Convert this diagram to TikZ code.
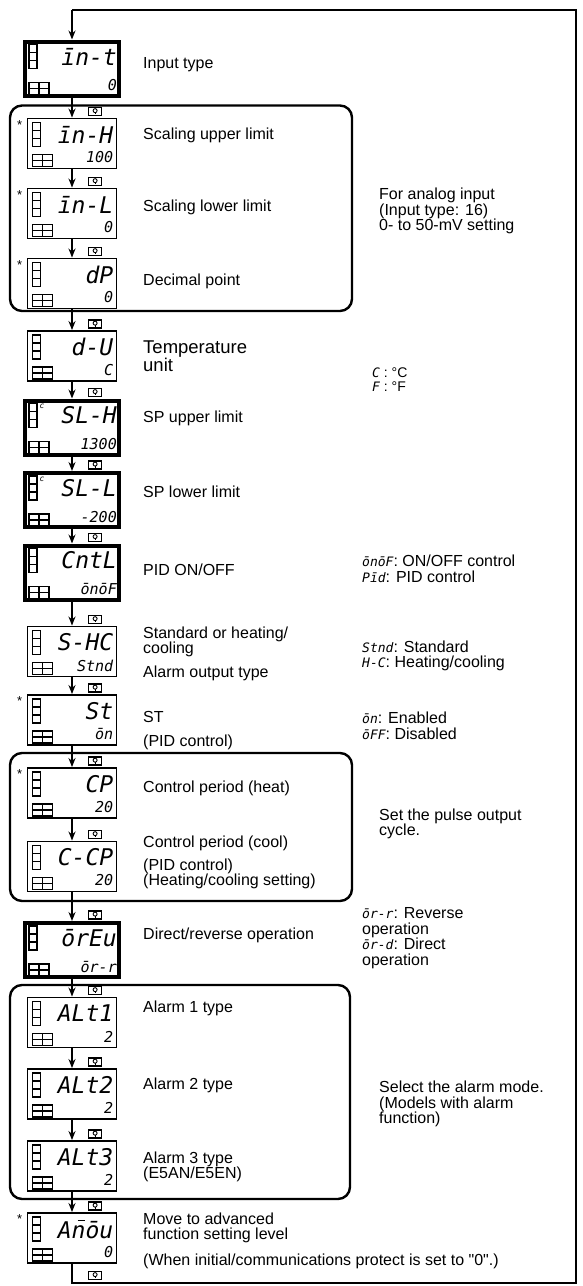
\documentclass[tikz,border=0pt]{standalone}
\usepackage{fontspec}
\setmainfont{Liberation Sans}[Ligatures=TeXOff]
\newfontfamily\segfont{DejaVu Sans Mono}
\usetikzlibrary{positioning,arrows.meta}

% traço sobre um caractere do visor
\newcommand{\sbar}[1]{\rlap{\kern0.26em\raisebox{0.74em}{\rule{0.32em}{0.07em}}}#1}
% caracteres do visor dentro do texto
\newcommand{\seg}[1]{{\segfont\itshape\fontsize{13}{13}\selectfont #1}}

% visor: [estilo] {nome} {y} {parametro} {valor}
\newcommand{\visor}[5][]{%
  \node[visor,#1] (#2) at (72,#3) {};
  \begin{scope}[shift={(#2.north west)}]
    \foreach \p in {0,1,2}
      \draw[indic] (6,5+8*\p) rectangle ++(8,8);
  \end{scope}
  \begin{scope}[shift={(#2.south west)}]
    \foreach \p in {0,1}
      \foreach \q in {0,1}
        \draw[indic] (6+10*\p,-15+6*\q) rectangle ++(10,6);
  \end{scope}
  \node[segtop] (#2-p) at ([xshift=-4pt,yshift=-17pt]#2.north east) {#4};
  \node[segval] (#2-v) at ([xshift=-4pt,yshift=12pt]#2.south east) {#5};
}

\begin{document}
\begin{tikzpicture}[
        x=1pt, y=-1pt,
        >={Stealth[length=9pt,width=7pt]},
        every node/.style={font=\fontsize{16}{15.5}\selectfont},
        visor/.style={draw, line width=1.9pt, minimum width=89pt, minimum height=50pt, inner sep=0pt},
        grosso/.style={line width=4pt, minimum width=94pt, minimum height=54pt},
        indic/.style={line width=1.7pt},
        segtop/.style={anchor=east, inner sep=0pt, font=\segfont\itshape\fontsize{23}{23}\selectfont},
        segval/.style={anchor=east, inner sep=0pt, font=\segfont\itshape\fontsize{15}{15}\selectfont},
        tecla/.style={draw, line width=1.2pt, minimum width=13pt, minimum height=8pt, inner sep=0pt,
            path picture={
                \draw[line width=0.9pt] ([yshift=0.8pt]path picture bounding box.center) circle (2pt);
                \draw[line width=0.9pt] ([yshift=-1.2pt]path picture bounding box.center) -- ++(0pt,-1.8pt);}},
        estrela/.style={inner sep=0pt, font=\fontsize{13}{13}\selectfont},
        rotulo/.style={anchor=west, align=left, inner sep=0pt},
        grupo/.style={line width=2.4pt, rounded corners=12pt},
        seta/.style={->, line width=1.8pt},
        laco/.style={line width=2.4pt}
    ]

    \useasboundingbox (0,0) rectangle (583,1286);

    % ==================================================
    % GRUPOS
    % ==================================================
    \draw[grupo] (10,105.5) rectangle (352,311);
    \draw[grupo] (10,753) rectangle (352,901);
    \draw[grupo] (10,985) rectangle (350,1199);

    % ==================================================
    % VISORES
    % ==================================================
    \visor[grosso]{int}{68.5}{īn-t}{0}
    \visor{inH}{143.5}{īn-H}{100}
    \visor{inL}{213.5}{īn-L}{0}
    \visor{dP}{283.5}{dP}{0}
    \visor{dU}{356}{d-U}{C}
    \visor[grosso]{SLH}{427.5}{SL-H}{1300}
    \visor[grosso]{SLL}{500}{SL-L}{-200}
    \visor[grosso]{CntL}{572.5}{CntL}{ōnōF}
    \visor{SHC}{651.5}{S-HC}{Stnd}
    \visor{St}{720}{St}{ōn}
    \visor{CP}{793}{CP}{20}
    \visor{CCP}{866.5}{C-CP}{20}
    \visor[grosso]{orEu}{950}{ōrEu}{ōr-r}
    \visor{ALt1}{1022.5}{ALt1}{2}
    \visor{ALt2}{1094}{ALt2}{2}
    \visor{ALt3}{1166}{ALt3}{2}
    \visor{Anou}{1238}{A\sbar{n}ōu}{0}

    % marca de unidade
    \node[inner sep=0pt, font=\segfont\itshape\fontsize{8}{8}\selectfont] (u-SLH) at ([xshift=19pt,yshift=-8pt]SLH.north west) {c};
    \node[inner sep=0pt, font=\segfont\itshape\fontsize{8}{8}\selectfont] (u-SLL) at ([xshift=19pt,yshift=-8pt]SLL.north west) {c};

    % Estrelas
    \node[estrela] (e-inH) at ([xshift=-7pt,yshift=-7pt]inH.north west) {*};
    \node[estrela] (e-inL) at ([xshift=-7pt,yshift=-7pt]inL.north west) {*};
    \node[estrela] (e-dP) at ([xshift=-7pt,yshift=-7pt]dP.north west) {*};
    \node[estrela] (e-St) at ([xshift=-7pt,yshift=-7pt]St.north west) {*};
    \node[estrela] (e-CP) at ([xshift=-7pt,yshift=-7pt]CP.north west) {*};
    \node[estrela] (e-Anou) at ([xshift=-7pt,yshift=-7pt]Anou.north west) {*};

    % ==================================================
    % SETAS
    % ==================================================
    \draw[seta] (int) -- (inH);
    \draw[seta] (inH) -- (inL);
    \draw[seta] (inL) -- (dP);
    \draw[seta] (dP) -- (dU);
    \draw[seta] (dU) -- (SLH);
    \draw[seta] (SLH) -- (SLL);
    \draw[seta] (SLL) -- (CntL);
    \draw[seta] (CntL) -- (SHC);
    \draw[seta] (SHC) -- (St);
    \draw[seta] (St) -- (CP);
    \draw[seta] (CP) -- (CCP);
    \draw[seta] (CCP) -- (orEu);
    \draw[seta] (orEu) -- (ALt1);
    \draw[seta] (ALt1) -- (ALt2);
    \draw[seta] (ALt2) -- (ALt3);
    \draw[seta] (ALt3) -- (Anou);

    % Retorno ao inicio
    \coordinate (cb) at (72,1283);
    \coordinate (cbd) at (576,1283);
    \coordinate (ctd) at (576,10);
    \coordinate (cte) at (72,10);
    \draw[laco] (Anou) -- (cb) -- (cbd) -- (ctd) -- (cte);
    \draw[seta] (cte) -- (int);

    % Teclas
    \node[tecla, above right=1.5pt and 16pt of inH.north] (k-inH) {};
    \node[tecla, above right=1.5pt and 16pt of inL.north] (k-inL) {};
    \node[tecla, above right=1.5pt and 16pt of dP.north] (k-dP) {};
    \node[tecla, above right=1.5pt and 16pt of dU.north] (k-dU) {};
    \node[tecla, above right=1.5pt and 16pt of SLH.north] (k-SLH) {};
    \node[tecla, above right=1.5pt and 16pt of SLL.north] (k-SLL) {};
    \node[tecla, above right=1.5pt and 16pt of CntL.north] (k-CntL) {};
    \node[tecla, above right=1.5pt and 16pt of SHC.north] (k-SHC) {};
    \node[tecla, above right=1.5pt and 16pt of St.north] (k-St) {};
    \node[tecla, above right=1.5pt and 16pt of CP.north] (k-CP) {};
    \node[tecla, above right=1.5pt and 16pt of CCP.north] (k-CCP) {};
    \node[tecla, above right=1.5pt and 16pt of orEu.north] (k-orEu) {};
    \node[tecla, above right=1.5pt and 16pt of ALt1.north] (k-ALt1) {};
    \node[tecla, above right=1.5pt and 16pt of ALt2.north] (k-ALt2) {};
    \node[tecla, above right=1.5pt and 16pt of ALt3.north] (k-ALt3) {};
    \node[tecla, above right=1.5pt and 16pt of Anou.north] (k-Anou) {};
    \node[tecla, above right=3pt and 16pt of cb] (k-fim) {};

    % ==================================================
    % TEXTOS
    % ==================================================
    \node[rotulo] (r-int) at (143,65) {Input type};
    \node[rotulo] (r-inH) at (143,135) {Scaling upper limit};
    \node[rotulo] (r-inL) at (143,207) {Scaling lower limit};
    \node[rotulo] (r-dP) at (143,281) {Decimal point};
    \node[rotulo, font=\fontsize{18.5}{18}\selectfont] (r-dU) at (143,356) {Temperature\\unit};
    \node[rotulo] (r-SLH) at (143,418) {SP upper limit};
    \node[rotulo] (r-SLL) at (143,492) {SP lower limit};
    \node[rotulo] (r-CntL) at (143,570) {PID ON/OFF};
    \node[rotulo] (r-SHC) at (143,642) {Standard or heating/\\cooling};
    \node[rotulo] (r-SHC2) at (143,673) {Alarm output type};
    \node[rotulo] (r-St) at (143,717) {ST};
    \node[rotulo] (r-St2) at (143,742) {(PID control)};
    \node[rotulo] (r-CP) at (143,788) {Control period (heat)};
    \node[rotulo] (r-CCP) at (143,843) {Control period (cool)};
    \node[rotulo] (r-CCP2) at (143,874) {(PID control)\\(Heating/cooling setting)};
    \node[rotulo] (r-orEu) at (143,935) {Direct/reverse operation};
    \node[rotulo] (r-ALt1) at (143,1008) {Alarm 1 type};
    \node[rotulo] (r-ALt2) at (143,1085) {Alarm 2 type};
    \node[rotulo] (r-ALt3) at (143,1167) {Alarm 3 type\\(E5AN/E5EN)};
    \node[rotulo] (r-Anou) at (143,1228) {Move to advanced\\function setting level};
    \node[rotulo] (r-Anou2) at (143,1261) {(When initial/communications protect is set to "0".)};

    % Notas da direita
    \node[rotulo] (n-inp) at (379,211) {For analog input\\(Input type: 16)\\0- to 50-mV setting};
    \node[rotulo, font=\fontsize{14}{14}\selectfont] (n-dU) at (372,380) {\seg{C} : °C\\\seg{F} : °F};
    \node[rotulo] (n-CntL) at (362,569) {\seg{ōnōF}: ON/OFF control\\\seg{Pīd}: PID control};
    \node[rotulo] (n-SHC) at (362,656) {\seg{Stnd}: Standard\\\seg{H-C}: Heating/cooling};
    \node[rotulo] (n-St) at (362,726) {\seg{ōn}: Enabled\\\seg{ōFF}: Disabled};
    \node[rotulo] (n-CP) at (379,824) {Set the pulse output\\cycle.};
    \node[rotulo] (n-orEu) at (362,938) {\seg{ōr-r}: Reverse\\operation\\\seg{ōr-d}: Direct\\operation};
    \node[rotulo] (n-ALt) at (379,1104) {Select the alarm mode.\\(Models with alarm\\function)};

\end{tikzpicture}
\end{document}
